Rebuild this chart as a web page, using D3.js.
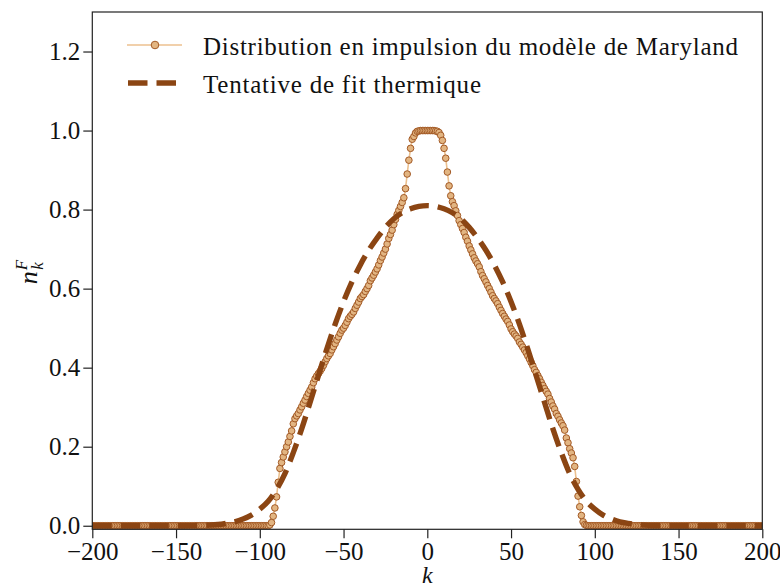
<!DOCTYPE html>
<html><head><meta charset="utf-8">
<script src="https://cdn.jsdelivr.net/npm/d3@7"></script>
<style>body{margin:0;background:#fff} svg{display:block}</style>
</head><body>
<svg id="c" width="780" height="585"></svg>
<script>
// momentum grid (categories)
const kValues = d3.range(-200, 201);
// n_k for k = 0..95 (right side); zero beyond
const nRight = [1.0,1.0,1.0,1.0,1.0, 0.999,0.998,0.995,0.988,0.975,
  0.955,0.93,0.895,0.86,0.835, 0.82,0.81,0.797,0.785,0.772,
  0.762,0.752,0.742,0.73,0.72, 0.708,0.698,0.688,0.678,0.67,
  0.663,0.655,0.643,0.633,0.625, 0.617,0.608,0.6,0.591,0.582,
  0.575,0.569,0.562,0.553,0.545, 0.537,0.53,0.523,0.517,0.508,
  0.498,0.491,0.485,0.48,0.474, 0.465,0.459,0.452,0.445,0.438,
  0.43,0.422,0.413,0.405,0.395, 0.388,0.38,0.372,0.363,0.355,
  0.347,0.34,0.333,0.322,0.313, 0.303,0.295,0.284,0.277,0.268,
  0.26,0.253,0.242,0.222,0.21, 0.195,0.184,0.172,0.15,0.112,
  0.075,0.048,0.026,0.01,0.003,0.001];
// n_k for k = 0..-95 (left side, index = |k|); zero beyond
const nLeft = [1.0,1.0,1.0,1.0,1.0, 0.999,0.998,0.994,0.985,0.978,
  0.955,0.925,0.89,0.853,0.83, 0.818,0.808,0.798,0.788,0.775,
  0.762,0.748,0.737,0.727,0.713, 0.7,0.69,0.68,0.671,0.66,
  0.65,0.642,0.634,0.627,0.62, 0.608,0.6,0.593,0.585,0.58,
  0.575,0.566,0.558,0.55,0.541, 0.535,0.53,0.524,0.515,0.507,
  0.5,0.495,0.487,0.478,0.47, 0.461,0.453,0.445,0.436,0.43,
  0.423,0.415,0.406,0.398,0.391, 0.385,0.379,0.372,0.362,0.351,
  0.343,0.335,0.327,0.318,0.31, 0.301,0.293,0.284,0.278,0.271,
  0.258,0.24,0.226,0.212,0.2, 0.187,0.174,0.16,0.145,0.11,
  0.073,0.045,0.024,0.008,0.002,0.0];
// thermal fit, |k| = 0..200 step 5 (symmetric)
const fitK = d3.range(0, 201, 5);
const fitN = [0.810,0.808,0.802,0.792,0.777,0.755,0.728,0.697,0.66,0.617,
  0.567,0.51,0.447,0.38,0.312,0.245,0.185,0.132,0.092,0.062,
  0.042,0.027,0.017,0.01,0.006,0.003,0.0015,0.0007,0.0003,
  0,0,0,0,0,0,0,0,0,0,0,0,0];
const xTicks = [-200,-150,-100,-50,0,50,100,150,200];
const yTicks = [0,0.2,0.4,0.6,0.8,1.0,1.2];
const legendLabels = ["Distribution en impulsion du modèle de Maryland", "Tentative de fit thermique"];

const FONT = '"Liberation Serif", monospace';
const svg = d3.select("#c");
const L = 92.3, R = 762.3, T = 12, B = 529.3;
const x = d3.scaleLinear().domain([-200, 200]).range([L, R]);
const y = d3.scaleLinear().domain([-0.009, 1.3]).range([B, T]);

const data = kValues.map(k => ({k, n: k >= 0 ? (nRight[k] ?? 0) : (nLeft[-k] ?? 0)}));
const fit = [];
for (let i = fitK.length - 1; i > 0; i--) fit.push({k: -fitK[i], n: fitN[i]});
for (let i = 0; i < fitK.length; i++) fit.push({k: fitK[i], n: fitN[i]});

svg.append("defs").append("clipPath").attr("id","clip")
  .append("rect").attr("x", L).attr("y", T).attr("width", R-L).attr("height", B-T);

const plot = svg.append("g").attr("clip-path","url(#clip)");
const lightLine = "#ecc08f", mFill = "#e2b582", mEdge = "#a35a26", dark = "#8b4513";

plot.append("path").datum(data)
  .attr("fill","none").attr("stroke", lightLine).attr("stroke-width", 1.6)
  .attr("d", d3.line().x(d => x(d.k)).y(d => y(d.n)));
plot.append("g").selectAll("circle").data(data).join("circle")
  .attr("cx", d => x(d.k)).attr("cy", d => y(d.n)).attr("r", 3.3)
  .attr("fill", mFill).attr("stroke", mEdge).attr("stroke-width", 1);
plot.append("path").datum(fit)
  .attr("fill","none").attr("stroke", dark).attr("stroke-width", 5.4)
  .attr("stroke-dasharray","19.5,9")
  .attr("d", d3.line().curve(d3.curveMonotoneX).x(d => x(d.k)).y(d => y(d.n)));

// frame
svg.append("rect").attr("x", L).attr("y", T).attr("width", R-L).attr("height", B-T)
  .attr("fill","none").attr("stroke","#222").attr("stroke-width",1.2);

// axes
const gx = svg.append("g").attr("transform", `translate(0,${B})`)
  .call(d3.axisBottom(x).tickValues(xTicks).tickSize(9).tickPadding(4).tickFormat(d3.format("d")));
const gy = svg.append("g").attr("transform", `translate(${L},0)`)
  .call(d3.axisLeft(y).tickValues(yTicks).tickSize(9).tickPadding(3).tickFormat(d3.format(".1f")));
[gx, gy].forEach(g => {
  g.attr("font-family", FONT).attr("font-size", 25);
  g.select(".domain").remove();
  g.selectAll(".tick line").attr("stroke","#222").attr("stroke-width",1.2);
  g.selectAll(".tick text").attr("fill","#111");
});

// axis labels
svg.append("text").attr("x", x(0)).attr("y", 583).attr("text-anchor","middle")
  .attr("font-family", FONT).attr("font-size", 24).attr("font-style","italic").attr("fill","#111").text("k");
const yl = svg.append("text").attr("transform","translate(37,272) rotate(-90)")
  .attr("text-anchor","middle").attr("font-family", FONT).attr("font-style","italic").attr("fill","#111");
yl.append("tspan").attr("font-size", 26).text("n");
yl.append("tspan").attr("font-size", 17).attr("dy",-10).attr("dx",1).text("F");
yl.append("tspan").attr("font-size", 17).attr("dy",16).attr("dx",-10).text("k");

// legend
const lg = svg.append("g");
lg.append("line").attr("x1",127).attr("x2",182).attr("y1",45).attr("y2",45)
  .attr("stroke", lightLine).attr("stroke-width",1.6);
lg.append("circle").attr("cx",155).attr("cy",45).attr("r",3.8)
  .attr("fill", mFill).attr("stroke", mEdge).attr("stroke-width",1);
lg.append("line").attr("x1",128).attr("x2",182).attr("y1",83).attr("y2",83)
  .attr("stroke", dark).attr("stroke-width",5.4).attr("stroke-dasharray","19.5,9");
lg.selectAll("text.lab").data(legendLabels).join("text").attr("class","lab")
  .attr("x",203).attr("y",(d,i)=> i===0 ? 55 : 92.5)
  .attr("textLength",(d,i)=> i===0 ? 535 : 278).attr("lengthAdjust","spacing")
  .attr("font-family", FONT).attr("font-size", 25).attr("fill","#111").text(d=>d);
</script>
</body></html>
